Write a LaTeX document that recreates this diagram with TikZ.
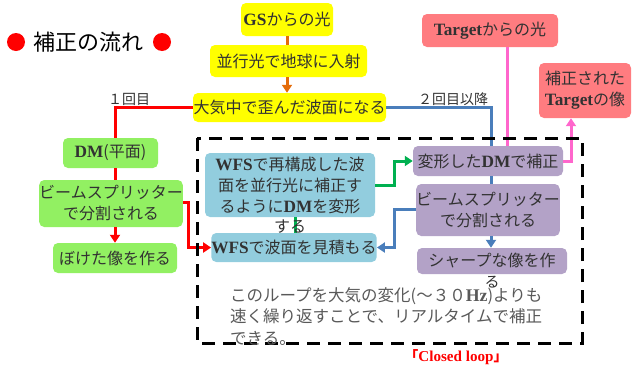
\documentclass[tikz,border=0pt]{standalone}
\usepackage{fontspec}
\setmainfont{Noto Sans CJK JP}
\newfontfamily\latf{Liberation Serif}[Scale=1.08]
\newcommand\LB[1]{{\latf\bfseries #1}}
\usetikzlibrary{arrows.meta,calc}
\definecolor{cyel}{RGB}{255,255,0}
\definecolor{cgrn}{RGB}{146,240,98}
\definecolor{cblu}{RGB}{146,205,222}
\definecolor{cpur}{RGB}{179,162,199}
\definecolor{csal}{RGB}{255,124,128}
\definecolor{lorange}{RGB}{228,108,10}
\definecolor{lblue}{RGB}{74,126,187}
\definecolor{lgreen}{RGB}{0,176,80}
\definecolor{lpink}{RGB}{255,102,204}
\definecolor{txtc}{RGB}{50,50,50}
\tikzset{
  box/.style={rounded corners=5pt, inner sep=0pt, align=center, text=txtc,
    font=\fontsize{16}{21}\selectfont},
  ybox/.style={box, fill=cyel},
  gbox/.style={box, fill=cgrn},
  bbox/.style={box, fill=cblu},
  pbox/.style={box, fill=cpur},
  sbox/.style={box, fill=csal},
  conn/.style={line width=3pt},
  arr/.style={-{Triangle[length=8pt,width=10pt]}},
  lbl/.style={text=txtc, font=\fontsize{14}{16}\selectfont, inner sep=0pt},
}
\begin{document}
\begin{tikzpicture}[x=1pt,y=-1pt]
\useasboundingbox (0,0) rectangle (632,370);

% title
\fill[red] (16,42) circle (9);
\fill[red] (162,42) circle (9);
\node[inner sep=0pt, font=\fontsize{22}{24}\selectfont] (title) at (89,42) {補正の流れ};

% yellow column
\node[ybox, minimum width=92, minimum height=33] (gs) at (287,19.5) {\LB{GS}からの光};
\node[ybox, minimum width=157, minimum height=32] (par) at (288.5,61) {並行光で地球に入射};
\node[ybox, minimum width=193, minimum height=29] (atm) at (289.5,107.5) {大気中で歪んだ波面になる};

% green column
\node[gbox, minimum width=95, minimum height=30] (dm1) at (110.5,153) {\LB{DM}(平面)};
\node[gbox, minimum width=142, minimum height=47] (bs1) at (111,203.5) {ビームスプリッター\\で分割される};
\node[gbox, minimum width=124, minimum height=30] (blur) at (115,258) {ぼけた像を作る};

% blue boxes
\node[bbox, minimum width=170, minimum height=64] (wfsr) at (290,185) {\LB{WFS}で再構成した波\\面を並行光に補正す\\るように\LB{DM}を変形};
\node[bbox, minimum width=162, minimum height=29] (wfse) at (294,247.5) {\LB{WFS}で波面を見積もる};

% purple boxes
\node[pbox, minimum width=150, minimum height=30] (dm2) at (488,161) {変形した\LB{DM}で補正};
\node[pbox, minimum width=138, minimum height=52] (bs2) at (488,210) {ビームスプリッター\\で分割される};
\node[pbox, minimum width=150, minimum height=26] (sharp) at (492,261) {シャープな像を作};

% salmon boxes
\node[sbox, minimum width=136, minimum height=33] (tgt) at (490,30.5) {\LB{Target}からの光};
\node[sbox, minimum width=92, minimum height=55] (timg) at (585,90.5) {補正された\\\LB{Target}の像};

% labels
\node[lbl] (l1) at (129,99) {１回目};
\node[lbl] (l2) at (453,99) {２回目以降};

\coordinate (bx) at (491,0);
\coordinate (px) at (507,0);

% orange
\draw[conn, lorange] (gs.south) -- (gs.south |- par.north);
\draw[conn, lorange, arr] (gs.south |- par.south) -- (gs.south |- atm.north);

% red
\draw[conn, red] (atm.west) -| ($(dm1.north)+(4.5,0)$);
\draw[conn, red] ($(dm1.south)+(4.5,0)$) -- ($(bs1.north)+(4,0)$);
\draw[conn, red, arr] ($(bs1.south)+(4,0)$) -- (blur.north);
\draw[conn, red, arr] ($(bs1.east)+(0,-1.5)$) -- ++(6,0) |- (wfse.west);

% blue
\draw[conn, lblue] (atm.east) -| (bx |- dm2.north);
\draw[conn, lblue] (bx |- dm2.south) -- (bx |- bs2.north);
\draw[conn, lblue, arr] (bx |- bs2.south) -- (bx |- sharp.north);
\draw[conn, lblue, arr] ($(bs2.west)+(0,-1)$) -- ++(-22,0) |- (wfse.east);

% green
\draw[conn, lgreen, arr] (wfsr.east) -- ++(19,0) |- (dm2.west);
\draw[conn, lgreen] ($(wfsr.south)+(5,0)$) -- ($(wfse.north)+(1,0)$);

% pink
\draw[conn, lpink] (tgt.south -| px) -- (px |- dm2.north);
\draw[conn, lpink, arr] (dm2.east) -| ($(timg.south)+(-14,0)$);

% overflow text
\node[lbl, font=\fontsize{16}{18}\selectfont] (suru) at (290,227) {する};
\node[lbl, font=\fontsize{15}{17}\selectfont] (ru) at (492,282) {る};

% closed loop frame
\draw[line width=3pt, dash pattern=on 13pt off 8pt] (197,138) rectangle (582,343);

\node[anchor=north west, align=left, inner sep=0pt, text=black!65,
  font=\fontsize{16.5}{21.5}\selectfont] (loop) at (230,287)
  {このループを大気の変化(～３０\LB{Hz})よりも\\速く繰り返すことで、リアルタイムで補正\\できる。};

\node[inner sep=0pt, text=red, font=\fontsize{14}{16}\selectfont\bfseries] (cl) at (456,357) {「\LB{Closed loop}」};
\end{tikzpicture}
\end{document}
